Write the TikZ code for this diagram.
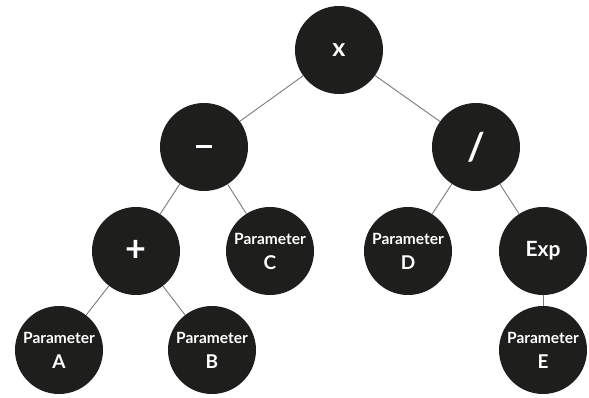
\documentclass[tikz,border=0pt]{standalone}
\usepackage{fontspec}
\setmainfont{Lato}
\begin{document}
\begin{tikzpicture}[x=1pt,y=-1pt,
  op/.style={circle,fill=nodefill,text=white,minimum size=88pt,inner sep=0pt,font=\bfseries},
  param/.style={op,align=center,font=\bfseries\fontsize{15.5}{25}\selectfont},
  edge/.style={draw=edgegray,line width=0.9pt}]
\definecolor{nodefill}{HTML}{1E1E1C}
\definecolor{edgegray}{HTML}{7A7A7A}
\useasboundingbox (0,0) rectangle (589,398);
\node[op,font=\bfseries\fontsize{25}{28}\selectfont] (mul) at (339,50) {x};
\node[op] (minus) at (204,147) {\raisebox{1pt}{\rule{16pt}{2.6pt}}};
\node[op,font=\bfseries\fontsize{38}{40}\selectfont] (div) at (476,147) {/};
\node[op,font=\bfseries\fontsize{36}{40}\selectfont] (plus) at (136,251) {+};
\node[param] (C) at (270,251) {Parameter\\{\fontsize{19}{20}\selectfont C}};
\node[param] (D) at (408,251) {Parameter\\{\fontsize{19}{20}\selectfont D}};
\node[op,font=\bfseries\fontsize{21}{24}\selectfont] (exp) at (543,251) {Exp};
\node[param] (A) at (59,350) {Parameter\\{\fontsize{19}{20}\selectfont A}};
\node[param] (B) at (212,350) {Parameter\\{\fontsize{19}{20}\selectfont B}};
\node[param] (E) at (543,350) {Parameter\\{\fontsize{19}{20}\selectfont E}};
\path[edge] (mul) -- (minus);
\path[edge] (mul) -- (div);
\path[edge] (minus) -- (plus);
\path[edge] (minus) -- (C);
\path[edge] (plus) -- (A);
\path[edge] (plus) -- (B);
\path[edge] (div) -- (D);
\path[edge] (div) -- (exp);
\path[edge] (exp) -- (E);
\end{tikzpicture}
\end{document}
